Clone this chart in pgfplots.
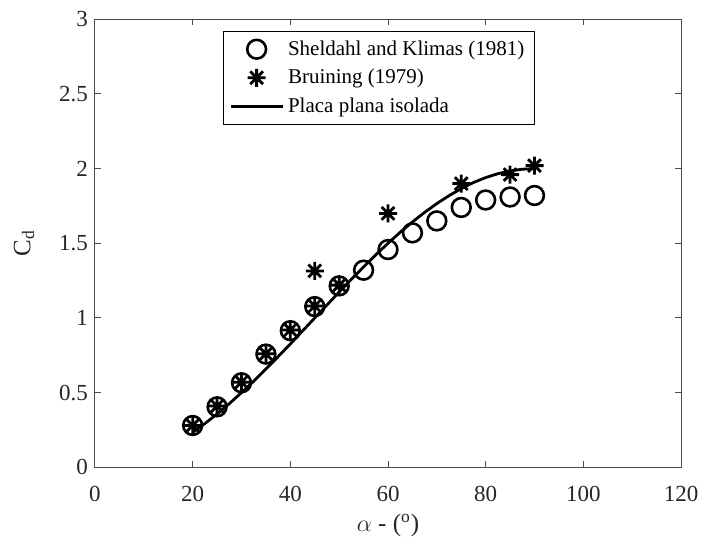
\documentclass[border=0pt]{standalone}
\usepackage{fontspec}
\setmainfont{Liberation Serif}
\usepackage{pgfplots}
\pgfplotsset{compat=1.18}
\pgfdeclareplotmark{mstar}{%
  \pgfpathmoveto{\pgfqpoint{-\pgfplotmarksize}{0pt}}\pgfpathlineto{\pgfqpoint{\pgfplotmarksize}{0pt}}%
  \pgfpathmoveto{\pgfqpoint{0pt}{-\pgfplotmarksize}}\pgfpathlineto{\pgfqpoint{0pt}{\pgfplotmarksize}}%
  \pgfpathmoveto{\pgfqpoint{-0.7071\pgfplotmarksize}{-0.7071\pgfplotmarksize}}\pgfpathlineto{\pgfqpoint{0.7071\pgfplotmarksize}{0.7071\pgfplotmarksize}}%
  \pgfpathmoveto{\pgfqpoint{-0.7071\pgfplotmarksize}{0.7071\pgfplotmarksize}}\pgfpathlineto{\pgfqpoint{0.7071\pgfplotmarksize}{-0.7071\pgfplotmarksize}}%
  \pgfusepathqstroke}
\begin{document}
\begin{tikzpicture}
\begin{axis}[
  name=ax,
  scale only axis,
  width=293pt, height=224pt,
  xmin=0, xmax=120, ymin=0, ymax=3,
  xtick={0,20,...,120}, ytick={0,0.5,...,3},
  tick align=inside,
  major tick length=3pt,
  axis line style={black!70, line width=0.5pt},
  tick style={black!70, line width=0.5pt},
  tick label style={font=\fontsize{11.5}{13}\selectfont, black!85},
  xticklabel style={yshift=-6pt},
  /pgf/number format/assume math mode=true,
  xlabel={$\alpha$ - ($^{\mathrm{o}}$)},
  ylabel={C\textsubscript{d}},
  label style={font=\fontsize{12.5}{15}\selectfont, black!85},
  xlabel style={at={(axis description cs:0.5,0)}, anchor=center, yshift=-29pt},
  ylabel style={at={(axis description cs:0,0.5)}, anchor=center, yshift=35.5pt},
  legend style={at={(0.218,0.974)}, anchor=north west, draw=black, line width=0.5pt,
    font=\fontsize{10.5}{14}\selectfont, inner xsep=3pt, inner ysep=2.5pt,
    row sep=1.5pt},
  legend cell align=left,
  legend image code/.code={\draw[mark repeat=2,mark phase=2,#1] plot coordinates {(0pt,0pt) (13pt,0pt) (26pt,0pt)};},
]
\addplot[only marks, mark=o, mark size=4.7pt, line width=1.3pt, black] coordinates {
(20,0.28) (25,0.405) (30,0.566) (35,0.758) (40,0.915) (45,1.076) (50,1.215)
(55,1.32) (60,1.458) (65,1.57) (70,1.65) (75,1.74) (80,1.79) (85,1.81) (90,1.82)
};
\addlegendentry{Sheldahl and Klimas (1981)}
\addplot[only marks, mark=mstar, mark size=4.5pt, line width=1.4pt, black] coordinates {
(20,0.28) (25,0.41) (30,0.57) (35,0.76) (40,0.92) (45,1.08) (45,1.315) (50,1.22)
(60,1.70) (75,1.90) (85,1.96) (90,2.02)
};
\addlegendentry{Bruining (1979)}
\addplot[black, line width=1.4pt] coordinates {
(20,0.234) (22.5,0.293) (25,0.357) (27.5,0.426) (30,0.500) (32.5,0.577) (35,0.658)
(37.5,0.741) (40,0.826) (42.5,0.913) (45,1.000) (47.5,1.087) (50,1.174) (52.5,1.259)
(55,1.342) (57.5,1.423) (60,1.500) (62.5,1.574) (65,1.643) (67.5,1.707) (70,1.766)
(72.5,1.819) (75,1.866) (77.5,1.907) (80,1.940) (82.5,1.966) (85,1.985) (87.5,1.996) (90,2.000)
};
\addlegendentry{Placa plana isolada}
\end{axis}
\pgfresetboundingbox
\path ([xshift=-47.5pt,yshift=-39.35pt]ax.south west) rectangle ([xshift=10.5pt,yshift=9.65pt]ax.north east);
\end{tikzpicture}
\end{document}
